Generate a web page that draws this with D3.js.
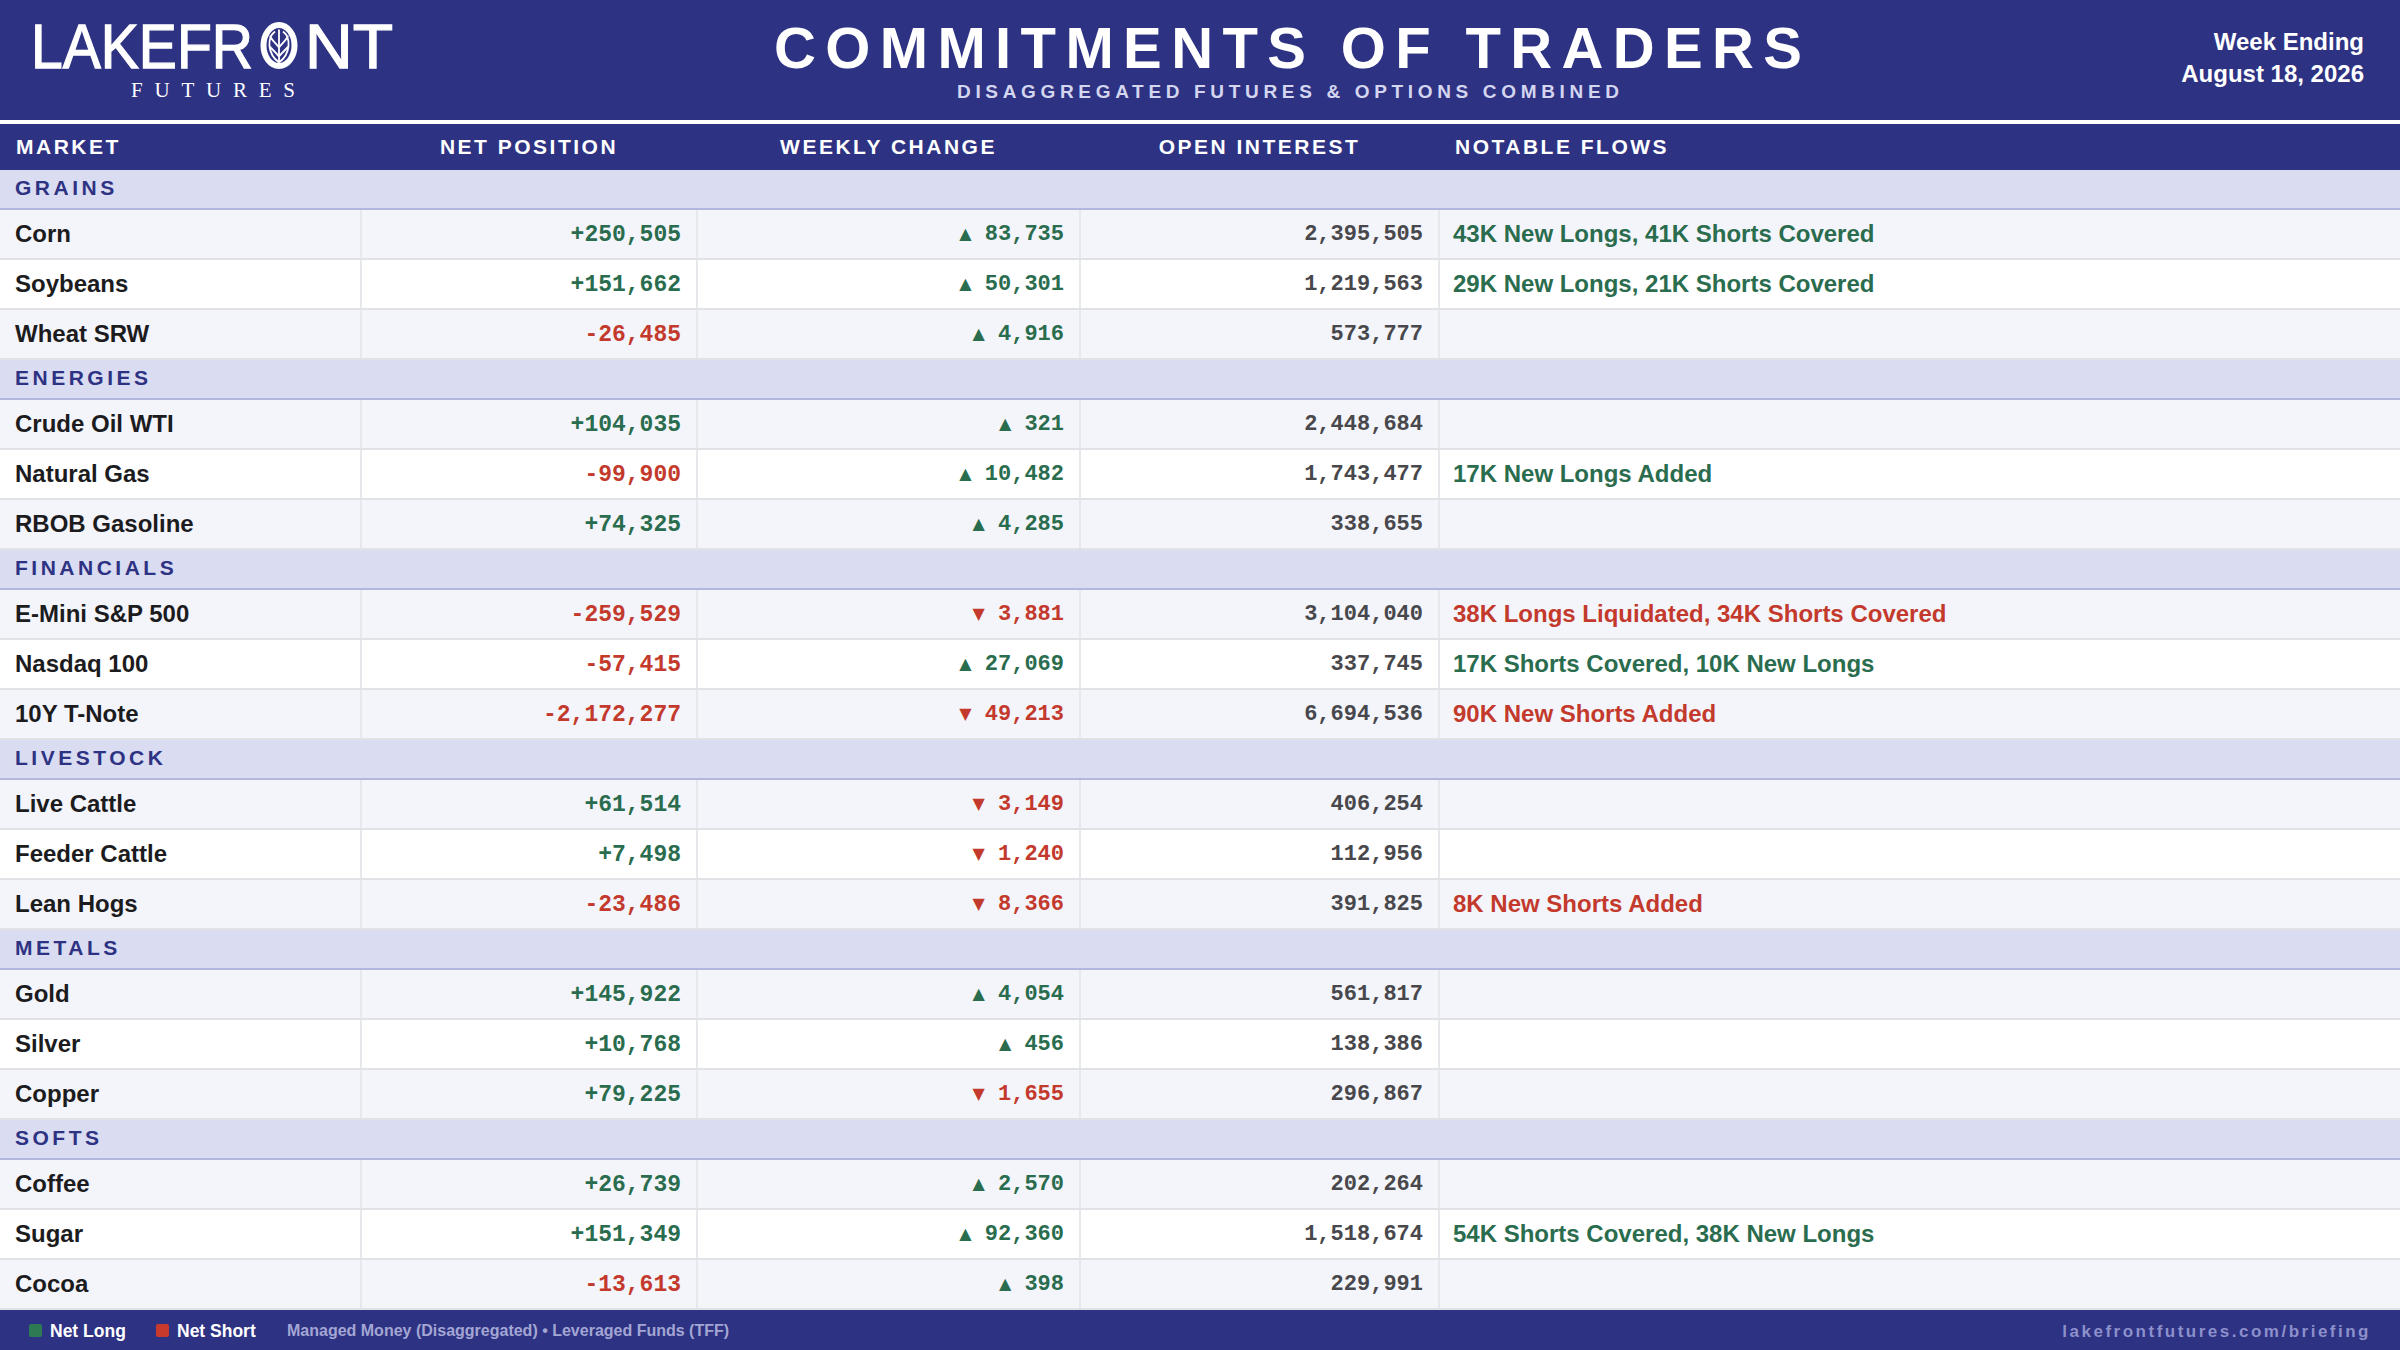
<!DOCTYPE html>
<html>
<head>
<meta charset="utf-8">
<script src="https://cdn.jsdelivr.net/npm/d3@7/dist/d3.min.js"></script>
<style>
  html, body { margin: 0; padding: 0; background: #ffffff; }
  svg { display: block; }
</style>
</head>
<body>
<div id="chart"></div>
<script>
// ---------------- DATA ----------------
const groups = ["GRAINS", "ENERGIES", "FINANCIALS", "LIVESTOCK", "METALS", "SOFTS"];
const markets = [
  "Corn", "Soybeans", "Wheat SRW",
  "Crude Oil WTI", "Natural Gas", "RBOB Gasoline",
  "E-Mini S&P 500", "Nasdaq 100", "10Y T-Note",
  "Live Cattle", "Feeder Cattle", "Lean Hogs",
  "Gold", "Silver", "Copper",
  "Coffee", "Sugar", "Cocoa"
];
const marketGroup = [
  "GRAINS", "GRAINS", "GRAINS",
  "ENERGIES", "ENERGIES", "ENERGIES",
  "FINANCIALS", "FINANCIALS", "FINANCIALS",
  "LIVESTOCK", "LIVESTOCK", "LIVESTOCK",
  "METALS", "METALS", "METALS",
  "SOFTS", "SOFTS", "SOFTS"
];
const netPosition = [
  250505, 151662, -26485,
  104035, -99900, 74325,
  -259529, -57415, -2172277,
  61514, 7498, -23486,
  145922, 10768, 79225,
  26739, 151349, -13613
];
const weeklyChange = [
  83735, 50301, 4916,
  321, 10482, 4285,
  -3881, 27069, -49213,
  -3149, -1240, -8366,
  4054, 456, -1655,
  2570, 92360, 398
];
const openInterest = [
  2395505, 1219563, 573777,
  2448684, 1743477, 338655,
  3104040, 337745, 6694536,
  406254, 112956, 391825,
  561817, 138386, 296867,
  202264, 1518674, 229991
];
const notableFlows = [
  "43K New Longs, 41K Shorts Covered", "29K New Longs, 21K Shorts Covered", "",
  "", "17K New Longs Added", "",
  "38K Longs Liquidated, 34K Shorts Covered", "17K Shorts Covered, 10K New Longs", "90K New Shorts Added",
  "", "", "8K New Shorts Added",
  "", "", "",
  "", "54K Shorts Covered, 38K New Longs", ""
];
const flowTone = [
  "bull", "bull", "",
  "", "bull", "",
  "bear", "bull", "bear",
  "", "", "bear",
  "", "", "",
  "", "bull", ""
];
const columnLabels = ["MARKET", "NET POSITION", "WEEKLY CHANGE", "OPEN INTEREST", "NOTABLE FLOWS"];
const legendLabels = ["Net Long", "Net Short"];

// ---------------- STYLE ----------------
const W = 2400, H = 1350;
const NAVY = "#2e3283";
const GREEN = "#2a6c4e";
const RED = "#c33a2d";
const SANS = "'Liberation Sans', Arial, Helvetica, sans-serif";
const MONO = "'Liberation Mono', 'DejaVu Sans Mono', monospace";

const svg = d3.select("#chart").append("svg")
  .attr("width", W).attr("height", H)
  .attr("viewBox", `0 0 ${W} ${H}`);

// ---------------- HEADER ----------------
svg.append("rect").attr("x", 0).attr("y", 0).attr("width", W).attr("height", 120).attr("fill", NAVY);
svg.append("rect").attr("x", 0).attr("y", 120).attr("width", W).attr("height", 4).attr("fill", "#ffffff");

// Logo
const logo = svg.append("g").attr("class", "logo");
const logoFont = "'Liberation Sans Narrow', 'Liberation Sans', sans-serif";
logo.append("text").attr("x", 31).attr("y", 68)
  .attr("font-family", logoFont)
  .attr("font-size", 63).attr("fill", "#fff").attr("stroke", "#fff").attr("stroke-width", 1.3)
  .attr("textLength", 222).attr("lengthAdjust", "spacingAndGlyphs")
  .text("LAKEFR");
logo.append("text").attr("x", 305).attr("y", 68)
  .attr("font-family", logoFont)
  .attr("font-size", 63).attr("fill", "#fff").attr("stroke", "#fff").attr("stroke-width", 1.3)
  .attr("textLength", 88).attr("lengthAdjust", "spacingAndGlyphs")
  .text("NT");
// emblem O
const ox = 279, oy = 45.5;
logo.append("ellipse").attr("cx", ox).attr("cy", oy).attr("rx", 15.5).attr("ry", 20.5)
  .attr("fill", "none").attr("stroke", "#fff").attr("stroke-width", 6);
const leaf = d3.path();
leaf.moveTo(ox, oy - 16); leaf.lineTo(ox, oy + 17);
logo.append("path").attr("d", leaf.toString()).attr("stroke", "#fff").attr("stroke-width", 1.8).attr("fill", "none");
const leafOutline = `M${ox},${oy + 17} C${ox - 12},${oy + 8} ${ox - 12},${oy - 8} ${ox - 4},${oy - 14}
                     M${ox},${oy + 17} C${ox + 12},${oy + 8} ${ox + 12},${oy - 8} ${ox + 4},${oy - 14}
                     M${ox},${oy + 2} C${ox - 4},${oy - 3} ${ox - 8},${oy - 6} ${ox - 9},${oy - 10}
                     M${ox},${oy + 2} C${ox + 4},${oy - 3} ${ox + 8},${oy - 6} ${ox + 9},${oy - 10}
                     M${ox},${oy + 11} C${ox - 4},${oy + 6} ${ox - 8},${oy + 3} ${ox - 10},${oy}
                     M${ox},${oy + 11} C${ox + 4},${oy + 6} ${ox + 8},${oy + 3} ${ox + 10},${oy}`;
logo.append("path").attr("d", leafOutline).attr("stroke", "#fff").attr("stroke-width", 1.8).attr("fill", "none");
logo.append("text").attr("x", 131).attr("y", 97)
  .attr("font-family", "'Liberation Serif', 'Times New Roman', serif")
  .attr("font-size", 21).attr("fill", "#fff")
  .attr("textLength", 164).attr("lengthAdjust", "spacing")
  .text("FUTURES");

// Title
svg.append("text").attr("x", 1288).attr("y", 68).attr("text-anchor", "middle")
  .attr("font-family", SANS).attr("font-weight", "bold").attr("font-size", 58)
  .attr("fill", "#fff").attr("textLength", 1028).attr("lengthAdjust", "spacing")
  .text("COMMITMENTS OF TRADERS");
svg.append("text").attr("x", 1288).attr("y", 98).attr("text-anchor", "middle")
  .attr("font-family", SANS).attr("font-weight", "bold").attr("font-size", 19)
  .attr("fill", "#d4d6f0").attr("textLength", 662).attr("lengthAdjust", "spacing")
  .text("DISAGGREGATED FUTURES & OPTIONS COMBINED");

// Week ending
svg.append("text").attr("x", 2364).attr("y", 50).attr("text-anchor", "end")
  .attr("font-family", SANS).attr("font-weight", "bold").attr("font-size", 24)
  .attr("fill", "#fff").text("Week Ending");
svg.append("text").attr("x", 2364).attr("y", 82).attr("text-anchor", "end")
  .attr("font-family", SANS).attr("font-weight", "bold").attr("font-size", 24)
  .attr("fill", "#fff").text("August 18, 2026");

// ---------------- COLUMNS ----------------
const colEdges = [0, 361, 697, 1080, 1439, W];
const colHeaderAnchor = ["start", "middle", "middle", "middle", "start"];
const colHeaderX = [16, (colEdges[1] + colEdges[2]) / 2, (colEdges[2] + colEdges[3]) / 2, (colEdges[3] + colEdges[4]) / 2, 1455];

svg.append("rect").attr("x", 0).attr("y", 124).attr("width", W).attr("height", 46).attr("fill", NAVY);
svg.append("g").selectAll("text").data(columnLabels).join("text")
  .attr("x", (d, i) => colHeaderX[i]).attr("y", 146).attr("dy", "0.36em")
  .attr("text-anchor", (d, i) => colHeaderAnchor[i])
  .attr("font-family", SANS).attr("font-weight", "bold").attr("font-size", 21)
  .attr("letter-spacing", 2.5).attr("fill", "#fff")
  .text(d => d);

// ---------------- ROWS ----------------
const GROUP_UNITS = 0.8, ROW_UNITS = 1;
const rows = [];
let u = 0;
groups.forEach(g => {
  rows.push({ type: "group", label: g, u0: u, u1: u + GROUP_UNITS });
  u += GROUP_UNITS;
  let k = 0;
  markets.forEach((m, i) => {
    if (marketGroup[i] !== g) return;
    rows.push({ type: "row", i, k, u0: u, u1: u + ROW_UNITS });
    u += ROW_UNITS; k++;
  });
});
const y = d3.scaleLinear().domain([0, u]).range([170, 1310]);

const fmt = d3.format(",");
const signed = v => (v >= 0 ? "+" : "-") + fmt(Math.abs(v));

const body = svg.append("g");
const rg = body.selectAll("g.r").data(rows).join("g").attr("class", "r");

rg.each(function (d) {
  const g = d3.select(this);
  const y0 = y(d.u0), y1 = y(d.u1);
  if (d.type === "group") {
    g.append("rect").attr("x", 0).attr("y", y0).attr("width", W).attr("height", y1 - y0).attr("fill", "#dadcf2");
    g.append("rect").attr("x", 0).attr("y", y1 - 2).attr("width", W).attr("height", 2).attr("fill", "#b3b7dd");
    g.append("text").attr("x", 15).attr("y", (y0 + y1 - 2) / 2 - 2).attr("dy", "0.36em")
      .attr("font-family", SANS).attr("font-weight", "bold").attr("font-size", 21)
      .attr("letter-spacing", 3.5).attr("fill", NAVY).text(d.label);
  } else {
    const i = d.i;
    const cy = (y0 + y1 - 2) / 2 - 1;
    g.append("rect").attr("x", 0).attr("y", y0).attr("width", W).attr("height", y1 - y0)
      .attr("fill", d.k % 2 === 0 ? "#f4f5fb" : "#ffffff");
    g.append("rect").attr("x", 0).attr("y", y1 - 2).attr("width", W).attr("height", 2).attr("fill", "#e1e2e6");
    colEdges.slice(1, 5).forEach(cx => {
      g.append("rect").attr("x", cx - 1).attr("y", y0).attr("width", 2).attr("height", y1 - y0 - 2).attr("fill", "#e7e8ec");
    });
    g.append("text").attr("x", 15).attr("y", cy).attr("dy", "0.36em")
      .attr("font-family", SANS).attr("font-weight", "bold").attr("font-size", 24)
      .attr("fill", "#1c1c1e").text(markets[i]);
    g.append("text").attr("x", colEdges[2] - 16).attr("y", cy).attr("dy", "0.36em")
      .attr("text-anchor", "end").attr("font-family", MONO).attr("font-weight", "bold").attr("font-size", 23)
      .attr("fill", netPosition[i] >= 0 ? GREEN : RED).text(signed(netPosition[i]));
    const wc = weeklyChange[i];
    const t = g.append("text").attr("x", colEdges[3] - 16).attr("y", cy - 1 + 8)
      .attr("text-anchor", "end").attr("font-family", MONO).attr("font-weight", "bold").attr("font-size", 22)
      .attr("fill", wc >= 0 ? GREEN : RED);
    t.append("tspan").attr("font-family", "'DejaVu Sans', sans-serif").attr("font-size", 16)
      .attr("dy", -1.5).text(wc >= 0 ? "▲" : "▼");
    t.append("tspan").attr("dy", 1.5).text(" " + fmt(Math.abs(wc)));
    g.append("text").attr("x", colEdges[4] - 16).attr("y", cy - 1).attr("dy", "0.36em")
      .attr("text-anchor", "end").attr("font-family", MONO).attr("font-weight", "bold").attr("font-size", 22)
      .attr("fill", "#48484c").text(fmt(openInterest[i]));
    if (notableFlows[i]) {
      g.append("text").attr("x", colEdges[4] + 14).attr("y", cy).attr("dy", "0.36em")
        .attr("font-family", SANS).attr("font-weight", "bold").attr("font-size", 24)
        .attr("fill", flowTone[i] === "bear" ? RED : GREEN).text(notableFlows[i]);
    }
  }
});

// ---------------- FOOTER ----------------
svg.append("rect").attr("x", 0).attr("y", 1310).attr("width", W).attr("height", 40).attr("fill", NAVY);
const legendX = [29, 156];
const legendColors = ["#2e7a52", "#c9392c"];
const lg = svg.append("g").selectAll("g").data(legendLabels).join("g");
lg.append("rect").attr("x", (d, i) => legendX[i]).attr("y", 1324).attr("width", 13).attr("height", 13)
  .attr("rx", 2).attr("fill", (d, i) => legendColors[i]);
lg.append("text").attr("x", (d, i) => legendX[i] + 21).attr("y", 1330.5).attr("dy", "0.36em")
  .attr("font-family", SANS).attr("font-weight", "bold").attr("font-size", 17.5)
  .attr("fill", "#fff").text(d => d);
svg.append("text").attr("x", 287).attr("y", 1330.5).attr("dy", "0.36em")
  .attr("font-family", SANS).attr("font-weight", "bold").attr("font-size", 16)
  .attr("fill", "#a3a6d3").text("Managed Money (Disaggregated) • Leveraged Funds (TFF)");
svg.append("text").attr("x", 2371).attr("y", 1330.5).attr("dy", "0.36em").attr("text-anchor", "end")
  .attr("font-family", SANS).attr("font-weight", "bold").attr("font-size", 17)
  .attr("letter-spacing", 2.5).attr("fill", "#8c90cb").text("lakefrontfutures.com/briefing");
</script>
</body>
</html>
